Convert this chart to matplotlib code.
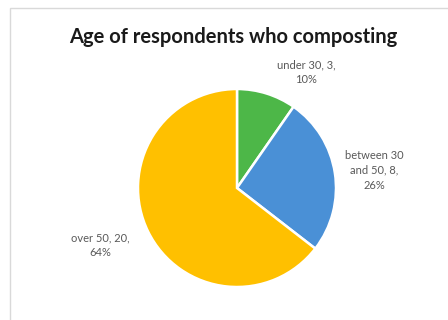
import matplotlib
matplotlib.use('Agg')
import matplotlib.pyplot as plt
from matplotlib.patches import Rectangle

categories = ['under 30', 'between 30 and 50', 'over 50']
counts = [3, 8, 20]
percents = ['10%', '26%', '64%']
label_texts = ['under 30, 3,\n10%', 'between 30\nand 50, 8,\n26%', 'over 50, 20,\n64%']
colors = ['#4db748', '#4a90d6', '#ffc000']

fig = plt.figure(figsize=(4.48, 3.2), dpi=100)
fig.patch.set_facecolor('white')

# light chart-area border like the Excel export
fig.patches.append(Rectangle((10 / 448, -0.1), 1.0, (320 - 8) / 320 + 0.1,
                             transform=fig.transFigure, fill=False,
                             edgecolor='#d9d9d9', linewidth=1.0))

fig.text(233 / 448, 1 - 37 / 320, 'Age of respondents who composting',
         ha='center', va='center', fontsize=14.5, fontweight='bold',
         family=['Lato', 'DejaVu Sans'], color='#1a1a1a')

ax = fig.add_axes([138 / 448, 33 / 320, 198 / 448, 198 / 320])
ax.pie(counts, colors=colors, startangle=90, counterclock=False,
       wedgeprops=dict(edgecolor='white', linewidth=1.8))
ax.set_xlim(-1, 1)
ax.set_ylim(-1, 1)
ax.set_aspect('equal')
ax.axis('off')

# label positions in pie units (radius = 1)
label_pos = [(0.70, 1.17), (1.39, 0.18), (-1.38, -0.58)]
for (x, y), txt in zip(label_pos, label_texts):
    ax.text(x, y, txt, ha='center', va='center', fontsize=8,
            family=['Lato', 'DejaVu Sans'], color='#595959',
            linespacing=1.45, clip_on=False)

fig.savefig('out.png', dpi=100)
